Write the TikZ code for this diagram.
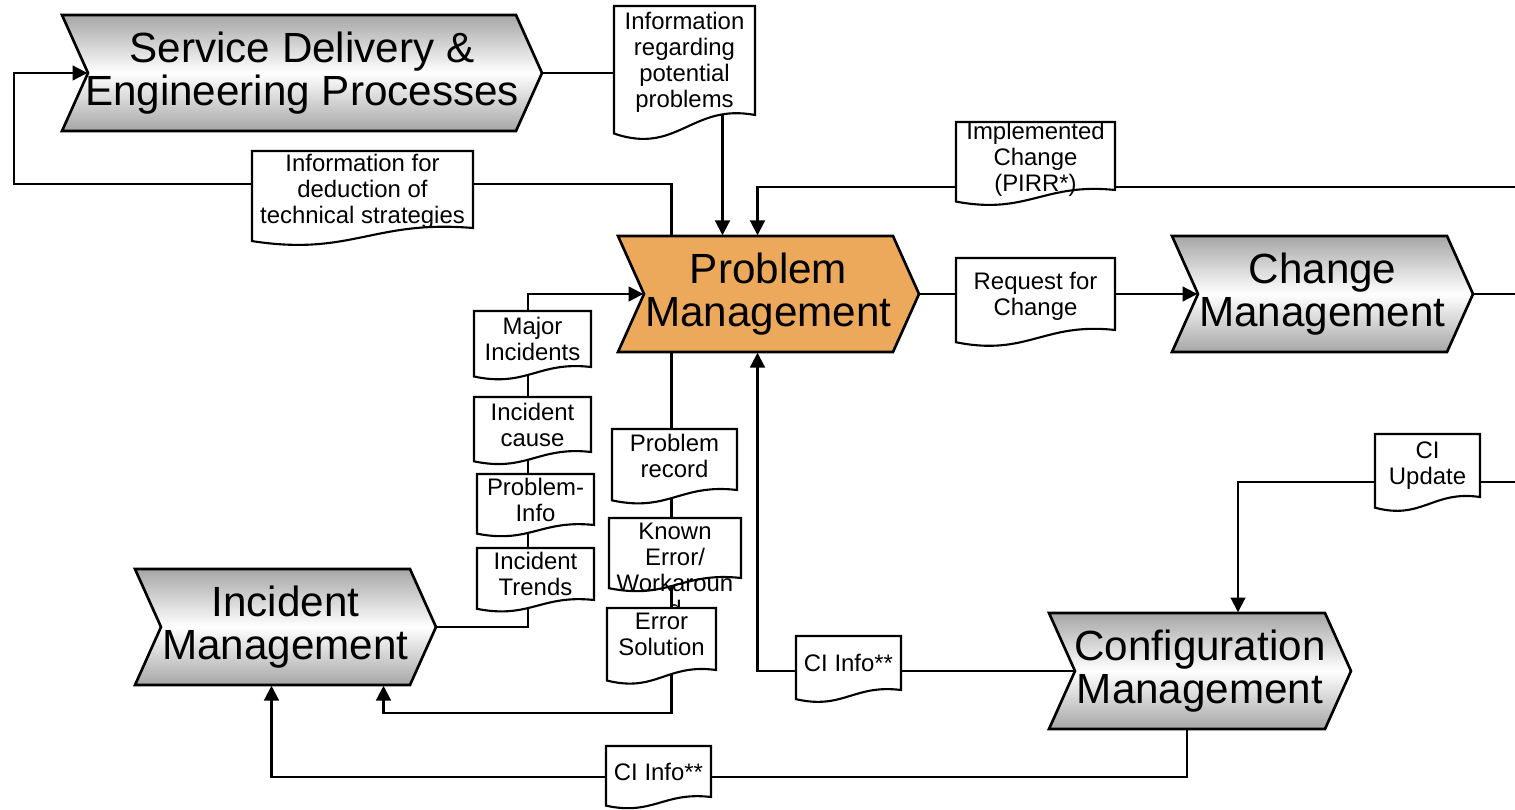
\documentclass[tikz,border=0pt]{standalone}
\usepackage{fontspec}
\setmainfont{Liberation Sans}
\usetikzlibrary{calc,arrows.meta}

\definecolor{pmorange}{RGB}{237,169,91}
\pgfdeclarelayer{bg}
\pgfsetlayers{bg,main}

\tikzset{
	procline/.style={draw=black,line width=0.75pt,top color=black!35,bottom color=black!35,middle color=white},
	pmline/.style={draw=black,line width=0.75pt,fill=pmorange},
	proctext/.style={inner sep=0pt,minimum height=1.16cm,align=center,font=\fontsize{12}{12.2}\selectfont},
	docline/.style={draw=black,line width=0.6pt,fill=white},
	doctext/.style={inner sep=0pt,align=center,font=\fontsize{6.8}{7.4}\selectfont},
	flow/.style={line width=0.6pt},
	arr/.style={flow,-{Triangle[length=4.2pt,width=4.2pt]}}
}

\newcommand{\procbox}[6]{%
	\draw[#5] (#2,#3) -- ++(#4,0) -- ++(26,58) -- ++(-26,58) -- ++(-#4,0) -- ++(26,-58) -- cycle;
	\node[proctext,minimum width={(#4+26)*0.01cm}] (#1) at ({#2+#4/2+13},{#3+58}) {#6};
}
\newcommand{\docshape}[7]{%
	\draw[docline] (#2,#3) -- (#4,#3) -- (#4,#5) .. controls ({#2+0.55*(#4-#2)},{#5-0.11*(#5-#3)}) and ({#2+0.45*(#4-#2)},{#5+0.37*(#5-#3)}) .. (#2,{#5+0.17*(#5-#3)}) -- cycle;
	\node[doctext,#6] (#1) at ({(#2+#4)/2},{(#3+#5)/2}) {#7};
}

\begin{document}
\begin{tikzpicture}[x=0.01cm,y=-0.01cm]
	\useasboundingbox (0,0) rectangle (1515,809);
	%\draw (0,0) -- (1515,0);
	\procbox{sdep}{62}{15}{454}{procline}{Service Delivery \&\\Engineering Processes}
	\procbox{pm}{618}{236}{275}{pmline}{Problem\\Management}
	\procbox{chm}{1172}{236}{275}{procline}{Change\\Management}
	\procbox{inc}{135}{569}{275}{procline}{Incident\\Management}
	\procbox{cfg}{1049}{613}{276}{procline}{Configuration\\Management}

	\docshape{potprob}{614}{6}{755}{115}{yshift=-0.02cm}{Information\\regarding\\potential\\problems}
	\docshape{techstrat}{252}{151}{473}{228}{yshift=-0.02cm}{Information for\\deduction of\\technical strategies}
	\docshape{implchg}{956}{122}{1115}{190}{yshift=-0.03cm}{Implemented\\Change\\(PIRR*)}
	\docshape{rfc}{956}{258}{1115}{330}{yshift=-0.02cm}{Request for\\Change}
	\docshape{majinc}{474}{311}{591}{367}{}{Major\\Incidents}
	\docshape{inccause}{474}{397}{591}{452}{}{Incident\\cause}
	\docshape{probinfo}{477}{474}{594}{525}{}{Problem-\\Info}
	\docshape{inctrend}{477}{548}{594}{600}{}{Incident\\Trends}
	\docshape{probrec}{612}{429}{737}{490}{yshift=0.04cm}{Problem\\record}
	\docshape{knownerr}{609}{518}{741}{578}{yshift=-0.22cm}{Known\\Error/\\Workaroun\\d}
	\docshape{errsol}{607}{608}{716}{670}{yshift=0.05cm}{Error\\Solution}
	\docshape{ciinfoa}{796}{636}{901}{690}{}{CI Info**}
	\docshape{ciinfob}{606}{746}{711}{797}{}{CI Info**}
	\docshape{ciupd}{1375}{434}{1480}{497}{}{CI\\Update}

	\coordinate (chgin) at (1515,187);
	\coordinate (chgout) at (1515,294);
	\coordinate (cfgin) at (1515,482);

	\begin{pgfonlayer}{bg}
		\draw[arr] (sdep.east) -| ($(pm.north)+(-46,0)$);
		\draw[arr] ($(pm.north)+(-97,0)$) |- ($(sdep.west)+(-47,111)$) |- ($(sdep.west)+(26,0)$);
		\draw[arr] (chgin) -| ($(pm.north)+(-11,0)$);
		\draw[arr] (pm.east) -- ($(chm.west)+(26,0)$);
		\draw[flow] (chm.east) -- (chgout);
		\draw[arr] (cfgin) -| ($(cfg.north)+(38,0)$);
		\draw[arr] ($(cfg.west)+(26,0)$) -| ($(pm.south)+(-11,0)$);
		\draw[arr] ($(cfg.south)+(-13,0)$) -- ++(0,47) -| ($(inc.south)+(-14,0)$);
		\draw[arr] ($(pm.south)+(-97,0)$) -- ++(0,360) -| ($(inc.south)+(98,0)$);
		\draw[arr] (inc.east) -- ++(91,0) |- ($(pm.west)+(26,0)$);
	\end{pgfonlayer}
\end{tikzpicture}
\end{document}
